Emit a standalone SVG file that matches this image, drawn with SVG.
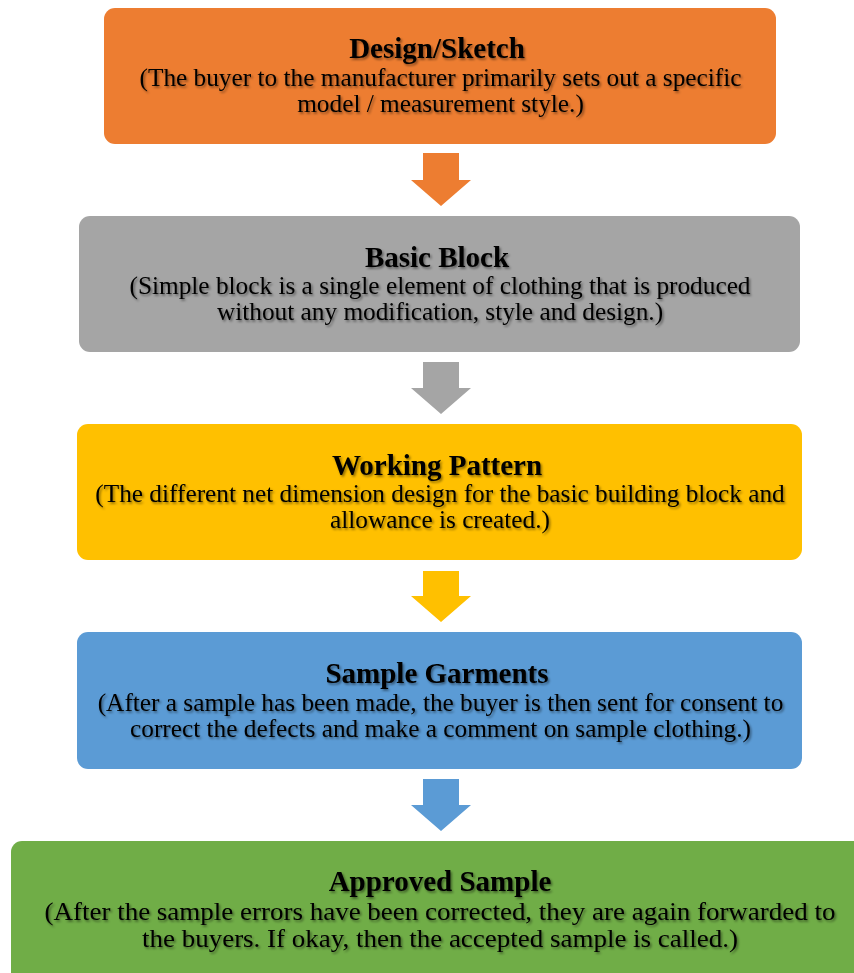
<svg xmlns="http://www.w3.org/2000/svg" width="854" height="973" viewBox="0 0 854 973">
<defs>
<style>
.t{font-family:"Liberation Serif","Times New Roman",serif;font-size:25.3px;fill:#000;text-anchor:middle;filter:url(#sh)}
.h{font-weight:bold;font-size:29px}
.b{font-size:25.3px}
</style>
<filter id="sh" x="-5%" y="-30%" width="110%" height="160%">
<feDropShadow dx="1.5" dy="1.8" stdDeviation="1.3" flood-color="#000" flood-opacity="0.45"/>
</filter>
</defs>
<rect width="854" height="973" fill="#fff"/>
<g id="connectors">
<polygon points="423,153 459,153 459,180 471,180 441,206 411,180 423,180" fill="#ed7d31"/>
<polygon points="423,362 459,362 459,388 471,388 441,414 411,388 423,388" fill="#a5a5a5"/>
<polygon points="423,571 459,571 459,596 471,596 441,622 411,596 423,596" fill="#ffc000"/>
<polygon points="423,779 459,779 459,805 471,805 441,831 411,805 423,805" fill="#5b9bd5"/>
</g>
<g id="n1">
<rect x="104" y="8" width="672" height="136" rx="11" fill="#ed7d31"/>
<text class="t h" x="437" y="58">Design/Sketch</text>
<text class="t" x="440.5" y="86">(The buyer to the manufacturer primarily sets out a specific</text>
<text class="t" x="440.5" y="112">model / measurement style.)</text>
</g>
<g id="n2">
<rect x="79" y="216" width="721" height="136" rx="11" fill="#a5a5a5"/>
<text class="t h" x="437" y="267">Basic Block</text>
<text class="t" x="440" y="294">(Simple block is a single element of clothing that is produced</text>
<text class="t" x="440" y="320">without any modification, style and design.)</text>
</g>
<g id="n3">
<rect x="77" y="424" width="725" height="136" rx="11" fill="#ffc000"/>
<text class="t h" x="437" y="475">Working Pattern</text>
<text class="t" x="440" y="502">(The different net dimension design for the basic building block and</text>
<text class="t" x="440" y="528">allowance is created.)</text>
</g>
<g id="n4">
<rect x="77" y="632" width="725" height="137" rx="11" fill="#5b9bd5"/>
<text class="t h" x="437" y="683">Sample Garments</text>
<text class="t" x="440.5" y="711">(After a sample has been made, the buyer is then sent for consent to</text>
<text class="t" x="440.5" y="737">correct the defects and make a comment on sample clothing.)</text>
</g>
<g id="n5">
<rect x="11" y="841" width="860" height="150" rx="11" fill="#70ad47"/>
<text class="t h" x="440" y="891">Approved Sample</text>
<text class="t b" x="440" y="920" textLength="791" lengthAdjust="spacingAndGlyphs">(After the sample errors have been corrected, they are again forwarded to</text>
<text class="t b" x="440" y="947" textLength="596" lengthAdjust="spacingAndGlyphs">the buyers. If okay, then the accepted sample is called.)</text>
</g>
</svg>
